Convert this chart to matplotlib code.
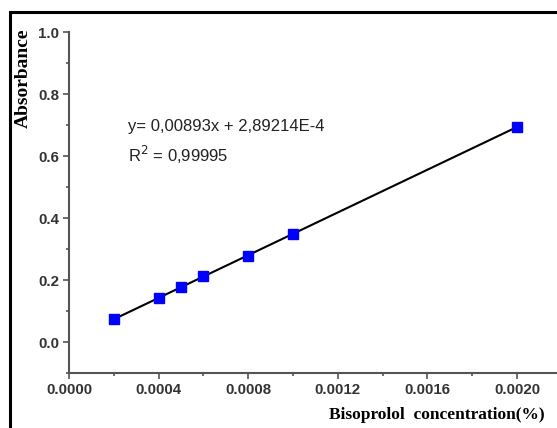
import numpy as np
import matplotlib.pyplot as plt
from matplotlib.patches import Rectangle
from matplotlib.ticker import MultipleLocator

# Calibration data
concentration = [0.0002, 0.0004, 0.0005, 0.0006, 0.0008, 0.0010, 0.0020]
absorbance = [0.075, 0.142, 0.177, 0.213, 0.277, 0.347, 0.695]
fit_text = "y= 0,00893x + 2,89214E-4"
r2_text = "R$^2$ = 0,99995"

W, H = 557, 428
fig = plt.figure(figsize=(W / 100, H / 100), dpi=100)

# outer frame around the figure (cut off at right/bottom)
fig.patches.append(Rectangle((10 / W, -0.1), 1.2, 1 - 12 / H + 0.1,
                             transform=fig.transFigure, fill=False,
                             edgecolor="black", linewidth=2.2))

left, bottom, top = 69 / W, (H - 373) / H, (H - 32) / H
ax = fig.add_axes([left, bottom, 1 - left, top - bottom])

# fitted line through the data, then the markers
coef = np.polyfit(concentration, absorbance, 1)
xs = np.array([concentration[0], concentration[-1]])
ax.plot(xs, np.polyval(coef, xs), color="black", linewidth=1.5, zorder=2)
ax.plot(concentration, absorbance, linestyle="none", marker="s",
        markersize=6.5, color="#0000ff", zorder=3)

ax.set_xlim(0, 488 / 89.6 * 0.0004)
ax.set_ylim(-0.1, 1.0)
ax.xaxis.set_major_locator(MultipleLocator(0.0004))
ax.xaxis.set_minor_locator(MultipleLocator(0.0002))
ax.yaxis.set_major_locator(MultipleLocator(0.2))
ax.yaxis.set_minor_locator(MultipleLocator(0.1))
ax.set_xticks([0, 0.0004, 0.0008, 0.0012, 0.0016, 0.0020])
ax.set_xticklabels(["0.0000", "0.0004", "0.0008", "0.0012", "0.0016", "0.0020"])
ax.set_yticks([0.0, 0.2, 0.4, 0.6, 0.8, 1.0])
ax.set_yticklabels(["0.0", "0.2", "0.4", "0.6", "0.8", "1.0"])

for side in ["top", "right"]:
    ax.spines[side].set_visible(False)
for side in ["left", "bottom"]:
    ax.spines[side].set_color("#555555")
    ax.spines[side].set_linewidth(1.5)

ax.tick_params(which="major", direction="out", length=4, width=1.2,
               color="#555555", labelsize=10.8, pad=3)
ax.tick_params(which="minor", direction="out", length=2.5, width=1.2,
               color="#555555")
for lbl in ax.get_xticklabels() + ax.get_yticklabels():
    lbl.set_fontfamily("Liberation Sans")
    lbl.set_fontweight("bold")
    lbl.set_color("#333333")

ax.text(0.000263, 0.694, fit_text, fontsize=12, family="Liberation Sans",
        color="#222222", va="center")
ax.text(0.000263, 0.603, r2_text, fontsize=12, family="Liberation Sans",
        color="#222222", va="center")

fig.text(545 / W, 1 - 415 / H, "Bisoprolol  concentration(%)", ha="right",
         va="center", fontsize=12.5, fontweight="bold",
         family="Liberation Serif")
fig.text(23 / W, 1 - 78 / H, "Absorbance", rotation=90, ha="center",
         va="center", fontsize=14, fontweight="bold",
         family="Liberation Serif")

fig.savefig("out.png", dpi=100)
